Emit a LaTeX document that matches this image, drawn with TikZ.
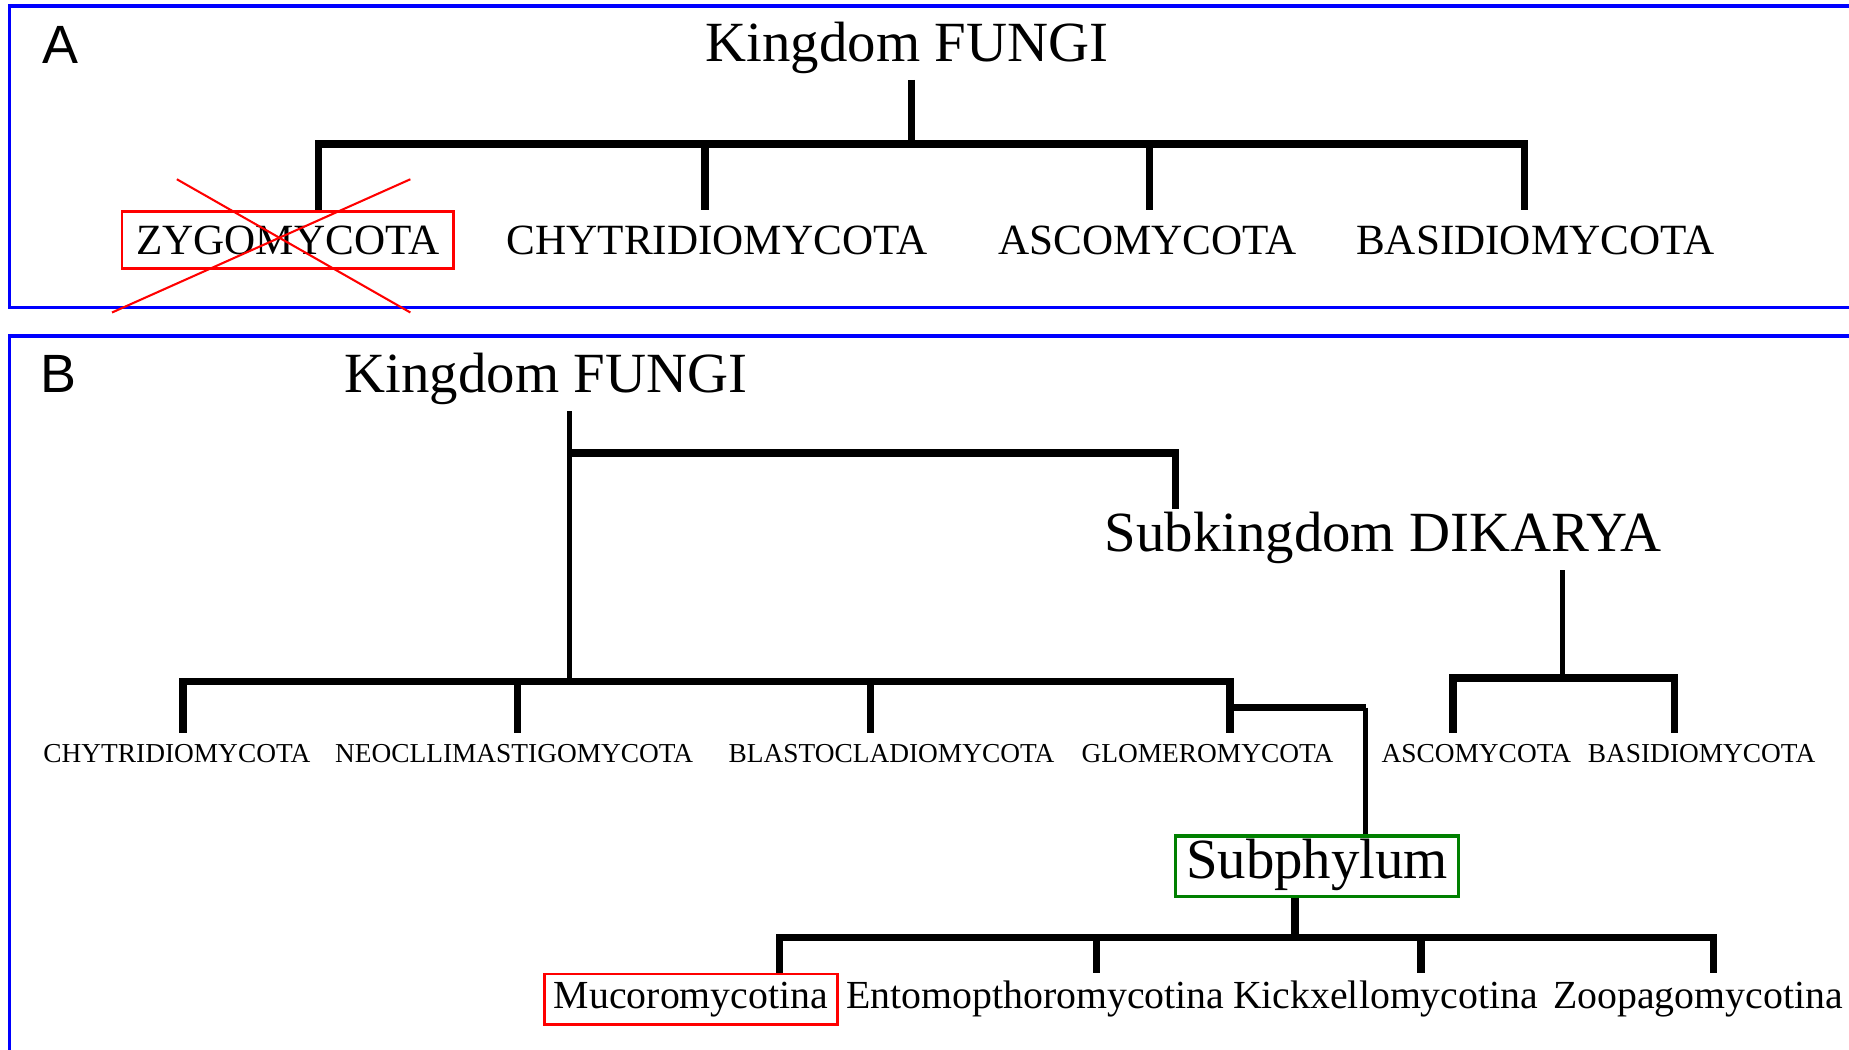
\documentclass[tikz,border=0pt]{standalone}
\usepackage{fontspec}
\setmainfont{Liberation Serif}
\setsansfont{Liberation Sans}
\usetikzlibrary{positioning}

\begin{document}
\begin{tikzpicture}[x=0.01cm,y=-0.01cm,
	panel/.style={draw=blue,line width=0.8pt},
	taxon/.style={font=\fontsize{13.7}{15}\selectfont,anchor=base,inner sep=0.06cm,text height=0.3cm,text depth=0.09cm},
	phylA/.style={font=\fontsize{10.4}{12}\selectfont,anchor=base,inner xsep=0.12cm,inner ysep=0.12cm,text height=0.25cm,text depth=0cm},
	phylB/.style={font=\fontsize{6.6}{7}\selectfont,anchor=base,inner sep=0.1cm,text height=0.15cm,text depth=0cm},
	subph/.style={font=\fontsize{9.6}{11}\selectfont,anchor=base,inner sep=0.08cm,text height=0.21cm,text depth=0.06cm},
	tag/.style={font=\sffamily\fontsize{13}{15}\selectfont},
	branch/.style={line width=1.8pt},
	stem/.style={line width=1.3pt},
	dropped/.style={draw=red,line width=0.7pt},
	kept/.style={draw=green!50!black,line width=0.8pt,inner xsep=0.09cm}]
	\useasboundingbox (0,0) rectangle (1568,890);
	\clip (0,0) rectangle (1568,890);

	\draw[panel] (8,5) rectangle (1590,261);
	\draw[panel] (8,285) rectangle (1590,910);

	\node [tag] at (51,38) (la) {A};
	\node [taxon] at (769,52) (kfa) {Kingdom FUNGI};
	\node [phylA,dropped] at (244,216) (zyg) {ZYGOMYCOTA};
	\node [phylA] at (608,216) (chy) {CHYTRIDIOMYCOTA};
	\node [phylA] at (973,216) (asc) {ASCOMYCOTA};
	\node [phylA] at (1302,216) (bas) {BASIDIOMYCOTA};

	\coordinate (ja) at (773,122);
	\coordinate (a1) at (270,122);
	\coordinate (a2) at (598,122);
	\coordinate (a3) at (975,122);
	\coordinate (a4) at (1293,122);

	\draw[branch] (ja |- kfa.south) -- (ja);
	\draw[branch] (a1 |- zyg.north) -- (a1) -- (a4) -- (a4 |- bas.north);
	\draw[branch] (a2) -- (a2 |- chy.north);
	\draw[branch] (a3) -- (a3 |- asc.north);
	\draw[red,line width=0.5pt] (150,152) -- (348,265) (348,152) -- (95,265);

	\node [tag] at (50,317) (lb) {B};
	\node [taxon] at (463,333) (kfb) {Kingdom FUNGI};
	\node [taxon] at (1173,468) (dk) {Subkingdom DIKARYA};
	\node [phylB] at (150,647) (chyb) {CHYTRIDIOMYCOTA};
	\node [phylB] at (436,647) (neo) {NEOCLLIMASTIGOMYCOTA};
	\node [phylB] at (756,647) (bla) {BLASTOCLADIOMYCOTA};
	\node [phylB] at (1024,647) (glo) {GLOMEROMYCOTA};
	\node [phylB] at (1252,647) (ascb) {ASCOMYCOTA};
	\node [phylB] at (1443,647) (basb) {BASIDIOMYCOTA};
	\node [taxon,kept] at (1117,745) (sub) {Subphylum};
	\node [subph,dropped] at (586,855) (muc) {Mucoromycotina};
	\node [subph] at (878,855) (ent) {Entomopthoromycotina};
	\node [subph] at (1175,855) (kic) {Kickxellomycotina};
	\node [subph] at (1440,855) (zoo) {Zoopagomycotina};

	\coordinate (jb) at (483,578);
	\coordinate (jd) at (483,384);
	\coordinate (dkx) at (997,384);
	\coordinate (b1) at (155,578);
	\coordinate (b2) at (439,578);
	\coordinate (b3) at (738,578);
	\coordinate (b4) at (1043,578);
	\coordinate (gx) at (1043,600);
	\coordinate (sx) at (1158,600);
	\coordinate (dj) at (1325,575);
	\coordinate (c1) at (1232,575);
	\coordinate (c2) at (1420,575);
	\coordinate (sj) at (1098,795);
	\coordinate (e1) at (661,795);
	\coordinate (e2) at (930,795);
	\coordinate (e3) at (1205,795);
	\coordinate (e4) at (1453,795);

	\draw[stem] (jb |- kfb.south) -- (jb);
	\draw[branch] (jd) -- (dkx) -- (dkx |- dk.north);
	\draw[branch] (b1 |- chyb.north) -- (b1) -- (b4) -- (b4 |- glo.north);
	\draw[branch] (b2) -- (b2 |- neo.north);
	\draw[branch] (b3) -- (b3 |- bla.north);
	\draw[branch] (gx) -- (sx);
	\draw[stem] (sx) -- (sx |- sub.north);
	\draw[stem] (dj |- dk.south) -- (dj);
	\draw[branch] (c1 |- ascb.north) -- (c1) -- (c2) -- (c2 |- basb.north);
	\draw[branch] (sj |- sub.south) -- (sj);
	\draw[branch] (e1 |- muc.north) -- (e1) -- (e4) -- (e4 |- zoo.north);
	\draw[branch] (e2) -- (e2 |- ent.north);
	\draw[branch] (e3) -- (e3 |- kic.north);
\end{tikzpicture}
\end{document}
